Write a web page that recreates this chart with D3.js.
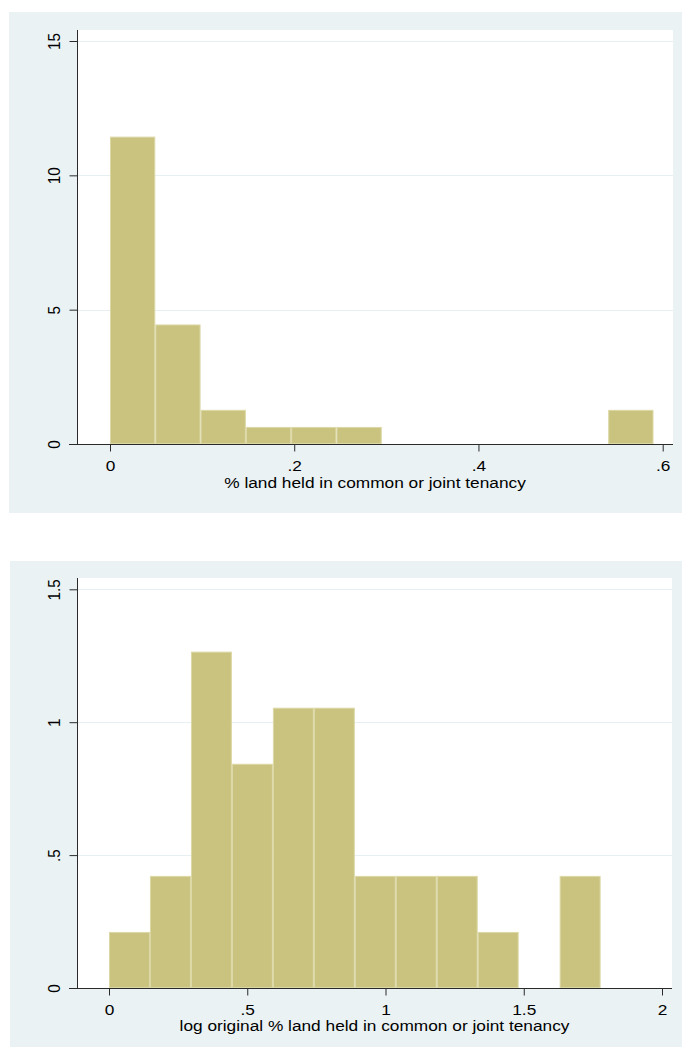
<!DOCTYPE html>
<html>
<head>
<meta charset="utf-8">
<script src="https://cdn.jsdelivr.net/npm/d3@7"></script>
<style>
  html, body { margin: 0; padding: 0; background: #ffffff; }
  svg { display: block; }
  text { font-family: "Liberation Sans", Arial, sans-serif; fill: #000; }
</style>
</head>
<body>
<svg id="chart" width="682" height="1047"></svg>
<script>
// Histogram 1: share of land held in common or joint tenancy (12 bins over [0, 0.59])
const shareBinMin = 0;
const shareBinMax = 0.59;
const shareCounts = [18, 7, 2, 1, 1, 1, 0, 0, 0, 0, 0, 2];
const shareTicksX = [0, 0.2, 0.4, 0.6];
const shareTickLabelsX = ["0", ".2", ".4", ".6"];
const shareTicksY = [0, 5, 10, 15];
const shareTickLabelsY = ["0", "5", "10", "15"];
const shareTitle = "% land held in common or joint tenancy";

// Histogram 2: log of original percentage (12 bins over [0, 1.778])
const logBinMin = 0;
const logBinMax = 1.778;
const logCounts = [1, 2, 6, 4, 5, 5, 2, 2, 2, 1, 0, 2];
const logTicksX = [0, 0.5, 1, 1.5, 2];
const logTickLabelsX = ["0", ".5", "1", "1.5", "2"];
const logTicksY = [0, 0.5, 1, 1.5];
const logTickLabelsY = ["0", ".5", "1", "1.5"];
const logTitle = "log original % land held in common or joint tenancy";

const BG = "#eaf2f3";
const BAR_FILL = "#cac380";
const BAR_STROKE = "#dcd8a6";
const GRID = "#e6eff2";
const AXIS = "#2a2a2a";
const FONT = "'Liberation Sans', Arial, sans-serif";
const TICK_SIZE = 15.3;
const TITLE_SIZE = 15.3;
const STRETCH = 1.13;   // wide sans lettering

const svg = d3.select("#chart");

function histogram(cfg) {
  const g = svg.append("g");
  // panel background
  g.append("rect")
    .attr("x", cfg.bg[0]).attr("y", cfg.bg[1])
    .attr("width", cfg.bg[2]).attr("height", cfg.bg[3])
    .attr("fill", BG);
  // plot region
  g.append("rect")
    .attr("x", cfg.plot.left).attr("y", cfg.plot.top)
    .attr("width", cfg.plot.right - cfg.plot.left)
    .attr("height", cfg.plot.bottom - cfg.plot.top)
    .attr("fill", "#ffffff");

  const x = d3.scaleLinear().domain(cfg.xDomain).range(cfg.xRange);
  const y = d3.scaleLinear().domain(cfg.yDomain).range(cfg.yRange);

  // gridlines at y ticks (except zero)
  g.selectAll("line.grid").data(cfg.ticksY.filter(v => v > 0)).enter()
    .append("line")
    .attr("x1", cfg.plot.left + 1).attr("x2", cfg.plot.right)
    .attr("y1", d => Math.round(y(d)) + 0.5).attr("y2", d => Math.round(y(d)) + 0.5)
    .attr("stroke", GRID).attr("stroke-width", 1);

  // bins -> densities
  const n = d3.sum(cfg.counts);
  const w = (cfg.binMax - cfg.binMin) / cfg.counts.length;
  const bins = cfg.counts.map((c, i) => ({
    x0: cfg.binMin + i * w,
    x1: cfg.binMin + (i + 1) * w,
    density: c / (n * w)
  })).filter(b => b.density > 0);

  g.selectAll("rect.bar").data(bins).enter()
    .append("rect")
    .attr("x", d => x(d.x0) + 0.5)
    .attr("y", d => y(d.density) + 0.5)
    .attr("width", d => x(d.x1) - x(d.x0) - 1)
    .attr("height", d => y(0) - y(d.density) - 1)
    .attr("fill", BAR_FILL)
    .attr("stroke", BAR_STROKE)
    .attr("stroke-width", 1);

  // x axis
  const xAxis = d3.axisBottom(x)
    .tickValues(cfg.ticksX)
    .tickFormat((d, i) => cfg.tickLabelsX[i])
    .tickSize(7).tickPadding(9).tickSizeOuter(0);
  const gx = g.append("g")
    .attr("transform", `translate(0,${Math.round(y(0)) + 0.5})`)
    .call(xAxis);
  gx.select(".domain").remove();
  gx.append("line")
    .attr("x1", cfg.plot.left - 8).attr("x2", cfg.plot.right)
    .attr("stroke", AXIS).attr("stroke-width", 1);
  gx.selectAll(".tick line").attr("stroke", AXIS);
  gx.selectAll(".tick text")
    .attr("font-size", TICK_SIZE).attr("fill", "#000")
    .attr("font-family", FONT)
    .attr("transform", `scale(${STRETCH},1)`);

  // y axis
  const yAxis = d3.axisLeft(y)
    .tickValues(cfg.ticksY)
    .tickFormat((d, i) => cfg.tickLabelsY[i])
    .tickSize(8).tickSizeOuter(0);
  const gy = g.append("g")
    .attr("transform", `translate(${cfg.plot.left + 0.5},0)`)
    .call(yAxis);
  gy.select(".domain").remove();
  gy.append("line")
    .attr("y1", cfg.plot.top).attr("y2", Math.round(y(0)) + 1)
    .attr("stroke", AXIS).attr("stroke-width", 1);
  gy.selectAll(".tick line").attr("stroke", AXIS);
  gy.selectAll(".tick text")
    .attr("font-size", TICK_SIZE).attr("fill", "#000")
    .attr("font-family", FONT)
    .attr("x", null).attr("dy", null)
    .attr("text-anchor", "middle")
    .attr("transform", `translate(-17.5,0) scale(${STRETCH},1) rotate(-90)`);

  // axis title
  const cx = (cfg.plot.left + cfg.plot.right) / 2;
  g.append("text")
    .attr("transform", `translate(${cx},${cfg.titleY}) scale(${STRETCH},1)`)
    .attr("text-anchor", "middle")
    .attr("font-size", TITLE_SIZE)
    .attr("font-family", FONT)
    .text(cfg.title);
}

histogram({
  bg: [9, 12, 673, 501],
  plot: { left: 77, right: 673, top: 30, bottom: 444 },
  xDomain: [0, 0.6], xRange: [110, 662.7],
  yDomain: [0, 15], yRange: [444, 41],
  binMin: shareBinMin, binMax: shareBinMax, counts: shareCounts,
  ticksX: shareTicksX, tickLabelsX: shareTickLabelsX,
  ticksY: shareTicksY, tickLabelsY: shareTickLabelsY,
  title: shareTitle, titleY: 488
});

histogram({
  bg: [10, 561, 672, 486],
  plot: { left: 77, right: 672, top: 578, bottom: 988 },
  xDomain: [0, 2], xRange: [109, 662],
  yDomain: [0, 1.5], yRange: [988, 589.3],
  binMin: logBinMin, binMax: logBinMax, counts: logCounts,
  ticksX: logTicksX, tickLabelsX: logTickLabelsX,
  ticksY: logTicksY, tickLabelsY: logTickLabelsY,
  title: logTitle, titleY: 1031
});
</script>
</body>
</html>
